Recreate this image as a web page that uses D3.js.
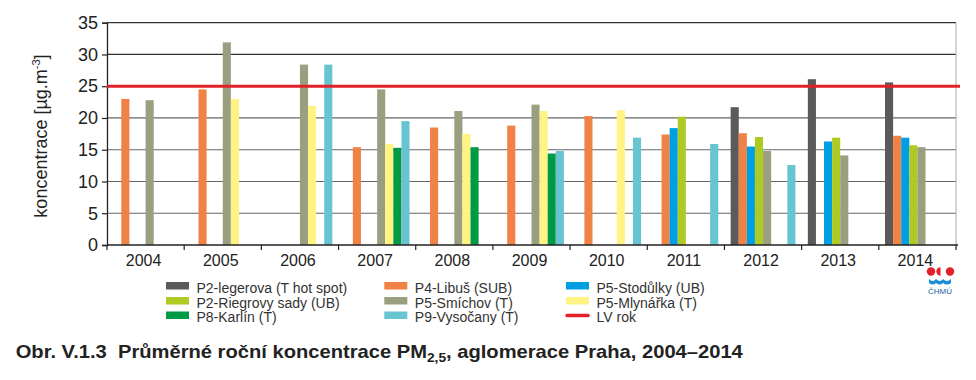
<!DOCTYPE html>
<html>
<head>
<meta charset="utf-8">
<script src="https://cdn.jsdelivr.net/npm/d3@7"></script>
<style>
  body { margin: 0; background: #fff; }
  svg { display: block; font-family: "Liberation Sans", Arial, sans-serif; }
</style>
</head>
<body>
<svg id="chart" width="976" height="380"></svg>
<script>
const years = ["2004","2005","2006","2007","2008","2009","2010","2011","2012","2013","2014"];
const seriesNames = ["P2-legerova (T hot spot)","P4-Libuš (SUB)","P5-Stodůlky (UB)","P2-Riegrovy sady (UB)","P5-Smíchov (T)","P5-Mlynářka (T)","P8-Karlín (T)","P9-Vysočany (T)"];
const seriesColors = ["#5a5a5a","#f08245","#009fe3","#afca22","#9aa07f","#fff383","#009a45","#68c4d1"];
const p2Legerova = [null,null,null,null,null,null,null,null,21.7,26.1,25.6];
const p4Libus    = [23.0,24.5,null,15.4,18.5,18.8,20.3,17.4,17.6,null,17.2];
const p5Stodulky = [null,null,null,null,null,null,null,18.4,15.5,16.3,16.9];
const p2Riegrovy = [null,null,null,null,null,null,null,20.2,17.0,16.9,15.7];
const p5Smichov  = [22.8,31.9,28.4,24.5,21.1,22.1,null,null,14.8,14.1,15.4];
const p5Mlynarka = [null,23.0,21.9,15.9,17.5,21.1,21.2,null,null,null,null];
const p8Karlin   = [null,null,null,15.3,15.4,14.4,null,null,null,null,null];
const p9Vysocany = [null,null,28.4,19.5,null,14.8,16.9,15.9,12.6,null,null];
const seriesValues = [p2Legerova,p4Libus,p5Stodulky,p2Riegrovy,p5Smichov,p5Mlynarka,p8Karlin,p9Vysocany];
const limitValue = 25;
const yTicks = [0,5,10,15,20,25,30,35];

const svg = d3.select("#chart");
const mLeft = 107, mRight = 956, mTop = 22.7, mBottom = 245;

const x0 = d3.scaleBand().domain(years).range([mLeft, mRight]).padding(0);
const bw = x0.bandwidth();
const x1 = d3.scaleBand().domain(seriesNames).range([6.2, bw - 6.2]).padding(0);
const y = d3.scaleLinear().domain([0, 35]).range([mBottom, mTop]);

// gridlines
svg.append("g").selectAll("line").data(yTicks.filter(d => d > 0)).join("line")
  .attr("x1", mLeft).attr("x2", mRight)
  .attr("y1", d => y(d)).attr("y2", d => y(d))
  .attr("stroke", d => d >= 30 ? "#333" : "#666").attr("stroke-width", 1.2);

// right border
svg.append("line").attr("x1", mRight).attr("x2", mRight).attr("y1", y(35)).attr("y2", mBottom)
  .attr("stroke", "#aaa").attr("stroke-width", 1);

// bars
const barData = [];
seriesValues.forEach((arr, si) => arr.forEach((v, yi) => {
  if (v != null) barData.push({ year: years[yi], s: seriesNames[si], c: seriesColors[si], v });
}));
svg.append("g").selectAll("rect").data(barData).join("rect")
  .attr("x", d => x0(d.year) + x1(d.s))
  .attr("width", x1.bandwidth())
  .attr("y", d => y(d.v))
  .attr("height", d => y(0) - y(d.v))
  .attr("fill", d => d.c);

// y axis
const yAxis = svg.append("g").attr("transform", `translate(${mLeft},0)`)
  .call(d3.axisLeft(y).tickValues(yTicks).tickSize(5).tickPadding(4));
yAxis.select(".domain").attr("stroke", "#222").attr("stroke-width", 1.3);
yAxis.selectAll(".tick line").attr("stroke", "#222").attr("stroke-width", 1.2);
yAxis.selectAll("text").attr("font-size", 18).attr("fill", "#222")
  .attr("font-family", "'Liberation Sans', Arial, sans-serif");

// x axis
const xAxisG = svg.append("g");
xAxisG.append("line").attr("x1", mLeft).attr("x2", mRight + 2).attr("y1", mBottom).attr("y2", mBottom)
  .attr("stroke", "#222").attr("stroke-width", 1.3);
const boundaries = years.map(d => x0(d)).concat([mRight]);
xAxisG.selectAll(".bt").data(boundaries).join("line")
  .attr("x1", d => d).attr("x2", d => d).attr("y1", mBottom).attr("y2", mBottom + 5)
  .attr("stroke", "#222").attr("stroke-width", 1.2);
xAxisG.selectAll(".yl").data(years).join("text")
  .attr("x", d => x0(d) + bw / 2 - 2).attr("y", 265.5)
  .attr("text-anchor", "middle").attr("font-size", 16).attr("fill", "#222").text(d => d);

// limit line
svg.append("line").attr("x1", mLeft).attr("x2", 960).attr("y1", y(limitValue)).attr("y2", y(limitValue))
  .attr("stroke", "#e3202a").attr("stroke-width", 3);

// y title
const yt = svg.append("text").attr("transform", "translate(47,136) rotate(-90)")
  .attr("text-anchor", "middle").attr("font-size", 18).attr("fill", "#222");
yt.append("tspan").text("koncentrace [µg.m");
yt.append("tspan").attr("font-size", 11).attr("dy", -7).text("-3");
yt.append("tspan").attr("dy", 7).text("]");

// legend
const legendItems = [
  { n: seriesNames[0], c: seriesColors[0], col: 0, row: 0 },
  { n: seriesNames[3], c: seriesColors[3], col: 0, row: 1 },
  { n: seriesNames[6], c: seriesColors[6], col: 0, row: 2 },
  { n: seriesNames[1], c: seriesColors[1], col: 1, row: 0 },
  { n: seriesNames[4], c: seriesColors[4], col: 1, row: 1 },
  { n: seriesNames[7], c: seriesColors[7], col: 1, row: 2 },
  { n: seriesNames[2], c: seriesColors[2], col: 2, row: 0 },
  { n: seriesNames[5], c: seriesColors[5], col: 2, row: 1 },
  { n: "LV rok", c: "#e3202a", col: 2, row: 2, line: true }
];
const colX = [166, 384.3, 566];
const rowY = [286, 301, 315.5];
const lg = svg.append("g");
legendItems.forEach(it => {
  const gx = colX[it.col], gy = rowY[it.row];
  if (it.line) {
    lg.append("line").attr("x1", gx + 1).attr("x2", gx + 22).attr("y1", gy).attr("y2", gy)
      .attr("stroke", it.c).attr("stroke-width", 3.5).attr("stroke-linecap", "round");
  } else {
    lg.append("rect").attr("x", gx).attr("y", gy - 4).attr("width", 23).attr("height", 7.5).attr("fill", it.c);
  }
  lg.append("text").attr("x", gx + 30.5).attr("y", gy + 6.5).attr("font-size", 14).attr("fill", "#333").text(it.n);
});

// logo
const logo = svg.append("g");
logo.append("circle").attr("cx", 931).attr("cy", 271.5).attr("r", 4.2).attr("fill", "#e3202a");
logo.append("path").attr("d", "M940.5,267.3 A4.2,4.2 0 0 0 940.5,275.7 Z").attr("fill", "#e3202a");
logo.append("circle").attr("cx", 950).attr("cy", 271.5).attr("r", 4.2).attr("fill", "#e3202a");
logo.append("path").attr("d", "M929,279 Q933,283 936,279 Q940,283 943,279 Q947,283 951,279 L951,283 Q947,286 943,283 Q940,286 936,283 Q933,286 929,283 Z")
  .attr("fill", "#1a8fd6");
logo.append("text").attr("x", 940).attr("y", 294).attr("text-anchor", "middle").attr("font-size", 8).attr("fill", "#1a5fa0").text("ČHMÚ");

// title
const title = svg.append("text").attr("x", 15.7).attr("y", 358.3)
  .attr("font-size", 19).attr("font-weight", "bold").attr("fill", "#222");
title.append("tspan").text("Obr. V.1.3\u00a0\u00a0Průměrné roční koncentrace PM");
title.append("tspan").attr("font-size", 13).attr("dy", 4).text("2,5");
title.append("tspan").attr("dy", -4).text(", aglomerace Praha, 2004–2014");
const tw = title.node().getComputedTextLength();
const target = 743 - 15.7;
title.attr("transform", `translate(15.7,0) scale(${target / tw},1) translate(-15.7,0)`);
</script>
</body>
</html>
